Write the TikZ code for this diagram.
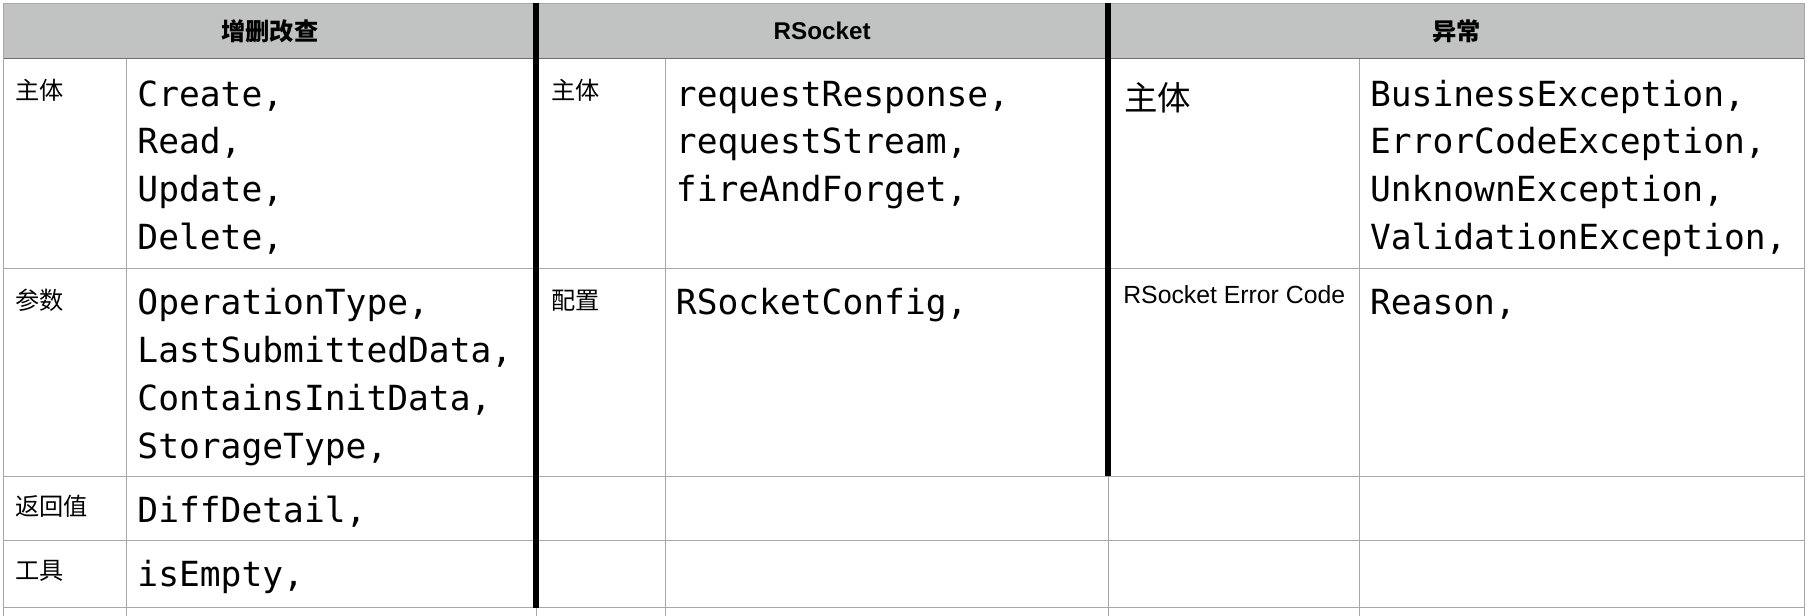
\documentclass[tikz,border=0pt]{standalone}
\usepackage{fontspec}
\setmainfont{Liberation Sans}
\newfontfamily\cjk{Noto Sans CJK SC}
\newfontfamily\codefont{DejaVu Sans Mono}
\usetikzlibrary{positioning}

\definecolor{headgray}{HTML}{C1C3C2}
\definecolor{rulegray}{HTML}{A8A8A8}
\definecolor{headrule}{HTML}{6E6E6E}

\begin{document}
\begin{tikzpicture}[x=1pt,y=-1pt,
   cellrule/.style={rulegray,line width=1pt},
   barrule/.style={black,line width=5pt},
   headtxt/.style={inner sep=0pt,font=\bfseries\fontsize{21}{25}\selectfont},
   keytxt/.style={anchor=base west,inner sep=0pt,font=\cjk\fontsize{21}{25}\selectfont},
   codecell/.style={anchor=base west,inner sep=0pt,align=left,%
                    font=\codefont\fontsize{30}{41.5}\selectfont}]
\useasboundingbox (0,0) rectangle (1568,534.2);

% header band
\fill[headgray] (3,3) rectangle (1565,51);
\draw[cellrule] (3,3) -- (1565,3);
\draw[headrule,line width=1pt] (3,51) -- (1565,51);

% rows and columns
\draw[cellrule] (3,233) -- (1565,233) (3,413) -- (1565,413)
                (3,469) -- (1565,469) (3,527) -- (1565,527);
\draw[cellrule] (3,3) -- (3,534.2) (1565,3) -- (1565,534.2)
                (110,51) -- (110,534.2) (577,51) -- (577,534.2)
                (1179,51) -- (1179,534.2)
                (465,527) -- (465,534.2) (961,413) -- (961,534.2);
\draw[barrule] (465,3) -- (465,527) (961,3) -- (961,413);

\node[headtxt,font=\cjk\bfseries\fontsize{21}{25}\selectfont] (hA) at (234,27) {增删改查};
\node[headtxt] (hB) at (713,27) {RSocket};
\node[headtxt,font=\cjk\bfseries\fontsize{21}{25}\selectfont] (hC) at (1263,27) {异常};

% first block (code cells sit on the baseline of their last line)
\node[keytxt] (A-1-1) at (13,86) {主体};
\node[codecell] (A-1-2) at (119,216.5) {Create,\\Read,\\Update,\\Delete,};
\node[keytxt] (A-2-1) at (13,268) {参数};
\node[codecell] (A-2-2) at (119,397.5) {OperationType,\\LastSubmittedData,\\ContainsInitData,\\StorageType,};
\node[keytxt] (A-3-1) at (13,447) {返回值};
\node[codecell] (A-3-2) at (119,453) {DiffDetail,};
\node[keytxt] (A-4-1) at (13,503) {工具};
\node[codecell] (A-4-2) at (119,509) {isEmpty,};

% second block
\node[keytxt] (B-1-1) at (478,86) {主体};
\node[codecell] (B-1-2) at (586,175) {requestResponse,\\requestStream,\\fireAndForget,};
\node[keytxt] (B-2-1) at (478,268) {配置};
\node[codecell] (B-2-2) at (586,273) {RSocketConfig,};

% third block
\node[keytxt,font=\cjk\fontsize{29}{33}\selectfont] (C-1-1) at (975,96) {主体};
\node[codecell] (C-1-2) at (1188,216.5) {BusinessException,\\ErrorCodeException,\\UnknownException,\\ValidationException,};
\node[keytxt,font=\fontsize{21.5}{25}\selectfont] (C-2-1) at (974,263) {RSocket Error Code};
\node[codecell] (C-2-2) at (1188,273) {Reason,};
\end{tikzpicture}
\end{document}
